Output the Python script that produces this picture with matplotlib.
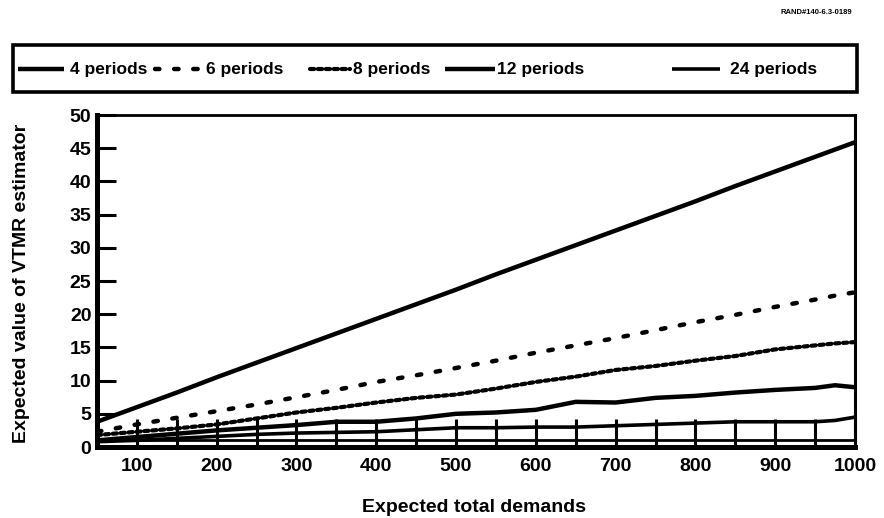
import matplotlib
matplotlib.use("Agg")
import matplotlib.pyplot as plt
from matplotlib.lines import Line2D
from matplotlib.patches import Rectangle
import numpy as np

plt.rcParams['font.family'] = ['Liberation Sans', 'DejaVu Sans']
plt.rcParams['font.weight'] = 'bold'

# demanda total esperada (eje x)
demandas = [50, 100, 150, 200, 250, 300, 350, 400, 450, 500,
            550, 600, 650, 700, 750, 800, 850, 900, 950, 975, 1000]

# valor esperado del estimador VTMR por numero de periodos
vtmr_4 = [3.8, 6.0, 8.2, 10.5, 12.7, 14.9, 17.1, 19.3, 21.5, 23.7,
          26.0, 28.2, 30.4, 32.6, 34.8, 37.0, 39.3, 41.5, 43.7, 44.8, 45.9]
vtmr_6 = [2.3, 3.4, 4.4, 5.4, 6.4, 7.5, 8.6, 9.8, 10.8, 11.9,
          13.0, 14.2, 15.3, 16.4, 17.6, 18.8, 19.9, 21.1, 22.2, 22.8, 23.3]
vtmr_8 = [1.8, 2.3, 2.8, 3.4, 4.3, 5.2, 5.9, 6.7, 7.4, 7.9,
          8.8, 9.8, 10.6, 11.6, 12.2, 13.0, 13.7, 14.7, 15.3, 15.6, 15.8]
vtmr_12 = [1.0, 1.5, 2.0, 2.5, 2.9, 3.3, 3.8, 3.8, 4.3, 5.0,
           5.2, 5.6, 6.8, 6.7, 7.4, 7.7, 8.2, 8.6, 8.9, 9.3, 9.0]
vtmr_24 = [0.8, 1.0, 1.3, 1.6, 1.9, 2.1, 2.2, 2.3, 2.6, 2.9,
           2.9, 3.0, 3.0, 3.2, 3.4, 3.6, 3.8, 3.8, 3.8, 4.0, 4.5]
vtmr_poisson = 1.0

etiquetas = ['4 periods', '6 periods', '8 periods', '12 periods', '24 periods']
series = [vtmr_4, vtmr_6, vtmr_8, vtmr_12, vtmr_24]

estilos = [
    dict(color='black', lw=3.2, ls='-', solid_capstyle='butt'),
    dict(color='black', lw=3.2, ls=(0, (1.0, 3.3)), dash_capstyle='round'),
    dict(color='black', lw=3.0, ls=(0, (1.0, 0.9)), dash_capstyle='round'),
    dict(color='black', lw=3.2, ls='-', solid_capstyle='butt'),
    dict(color='black', lw=2.6, ls='-', solid_capstyle='butt'),
]

W, H = 884, 518
fig = plt.figure(figsize=(W / 100, H / 100), dpi=100)


def fx(px):
    return px / W


def fy(py):
    return 1 - py / H


ax = fig.add_axes([fx(97), fy(447), fx(855) - fx(97), fy(115) - fy(447)])

for ys, st in zip(series, estilos):
    ax.plot(demandas, ys, **st)
ax.axhline(vtmr_poisson, color='black', lw=2.0)

ax.set_xlim(50, 1000)
ax.set_ylim(0, 50)
ax.set_xticks(np.arange(100, 1001, 100))
ax.set_xticks(np.arange(150, 1000, 100), minor=True)
ax.set_yticks(np.arange(0, 51, 5))
ax.tick_params(axis='x', which='both', direction='in', length=20, width=2.2,
               pad=8, labelsize=14)
ax.tick_params(axis='y', direction='in', length=14, width=2.2, pad=4,
               labelsize=14)
for lab in ax.get_xticklabels() + ax.get_yticklabels():
    lab.set_fontweight('bold')

ax.spines['left'].set_linewidth(3.6)
ax.spines['bottom'].set_linewidth(3.6)
ax.spines['top'].set_linewidth(2.0)
ax.spines['right'].set_linewidth(2.2)

fig.text(fx(22), fy(283), 'Expected value of VTMR estimator', rotation=90,
         ha='center', va='center', fontsize=14, fontweight='bold')
fig.text(fx(474), fy(508), 'Expected total demands', ha='center',
         va='center', fontsize=14, fontweight='bold')
fig.text(fx(852), fy(12), 'RAND#140-6.3-0189', ha='right', va='center',
         fontsize=5.5, fontweight='bold')

# leyenda dibujada a mano dentro de un recuadro
fig.add_artist(Rectangle((fx(13), fy(92)), fx(857) - fx(13), fy(45) - fy(92),
                         transform=fig.transFigure, fill=False,
                         lw=2.6, edgecolor='black'))
pos_ley = [(18, 64, 70), (155, 203, 206), (310, 350, 353),
           (445, 495, 497), (672, 720, 730)]
for (x0, x1, xt), lab, st in zip(pos_ley, etiquetas, estilos):
    fig.add_artist(Line2D([fx(x0), fx(x1)], [fy(69), fy(69)],
                          transform=fig.transFigure, **st))
    fig.text(fx(xt), fy(69), lab, ha='left', va='center', fontsize=12.5,
             fontweight='bold')

fig.savefig('out.png', dpi=100)
